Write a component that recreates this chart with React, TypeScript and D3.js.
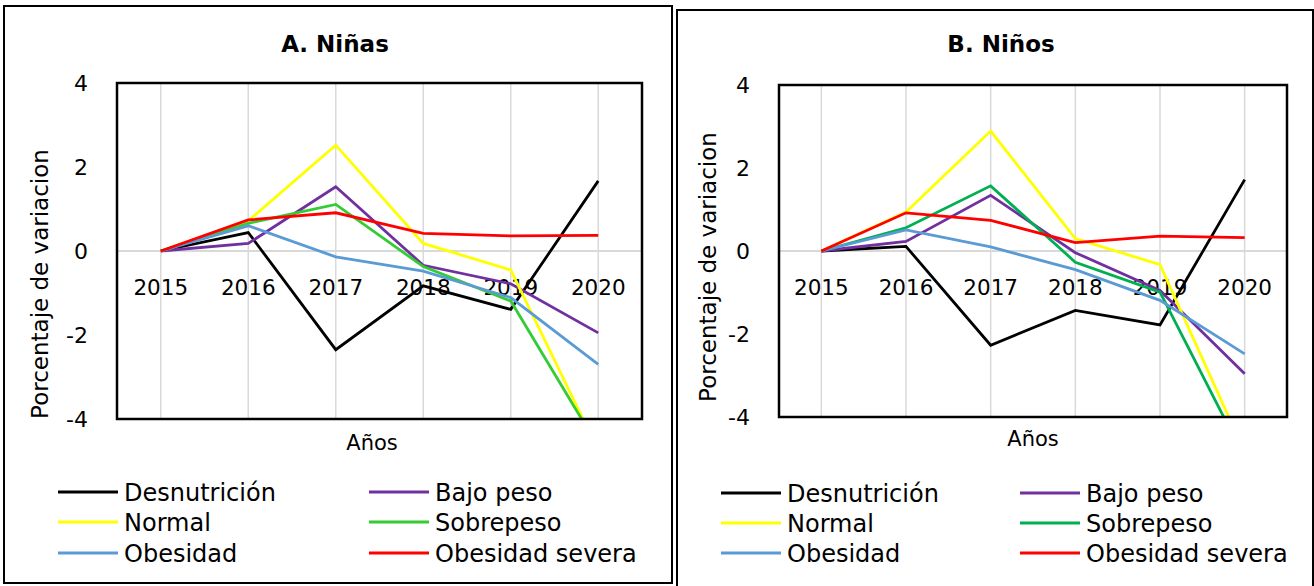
import React from 'react';
import * as d3 from 'd3';

const years = ['2015', '2016', '2017', '2018', '2019', '2020'];
const yTicks = [4, 2, 0, -2, -4];
const seriesNames = ['Desnutrición', 'Bajo peso', 'Normal', 'Sobrepeso', 'Obesidad', 'Obesidad severa'];

const ninasDesnutricion = [0, 0.44, -2.35, -0.83, -1.39, 1.67];
const ninasBajoPeso = [0, 0.18, 1.53, -0.34, -0.78, -1.95];
const ninasNormal = [0, 0.72, 2.52, 0.18, -0.45, -4.75];
const ninasSobrepeso = [0, 0.66, 1.11, -0.37, -1.19, -4.66];
const ninasObesidad = [0, 0.6, -0.14, -0.48, -1.11, -2.7];
const ninasObesidadSevera = [0, 0.74, 0.91, 0.42, 0.36, 0.37];

const ninosDesnutricion = [0, 0.11, -2.27, -1.43, -1.78, 1.72];
const ninosBajoPeso = [0, 0.23, 1.34, -0.04, -0.95, -2.96];
const ninosNormal = [0, 0.94, 2.89, 0.3, -0.33, -4.85];
const ninosSobrepeso = [0, 0.56, 1.57, -0.27, -0.99, -4.99];
const ninosObesidad = [0, 0.51, 0.1, -0.45, -1.19, -2.48];
const ninosObesidadSevera = [0, 0.92, 0.74, 0.2, 0.36, 0.32];

const colorsA = ['#000000', '#7030A0', '#FFFF00', '#33CC33', '#5B9BD5', '#FF0000'];
const colorsB = ['#000000', '#7030A0', '#FFFF00', '#00B050', '#5B9BD5', '#FF0000'];

const FONT = "'DejaVu Sans', sans-serif";

type PanelProps = {
  id: string;
  frame: [number, number, number, number];
  plot: [number, number, number, number];
  title: string;
  titleX: number;
  yTitle: [number, number];
  xTitle: [number, number];
  series: number[][];
  colors: string[];
  legend: { col1Line: number; col2Line: number; rows: number[] };
};

function Panel(p: PanelProps) {
  const [pl, pt, pr, pb] = p.plot;
  const x = d3.scalePoint<string>().domain(years).range([pl, pr]).padding(0.5);
  const y = d3.scaleLinear().domain([-4, 4]).range([pb, pt]);
  const line = d3
    .line<number>()
    .x((_, i) => x(years[i]) as number)
    .y((d) => y(d));
  const [fx, fy, fw, fh] = p.frame;
  const lineLen = 60;
  return (
    <g>
      <defs>
        <clipPath id={p.id}>
          <rect x={pl} y={pt} width={pr - pl} height={pb - pt} />
        </clipPath>
      </defs>
      <rect x={fx} y={fy} width={fw} height={fh} fill="white" stroke="#000" strokeWidth={2} />
      <text x={p.titleX} y={44} dy="0.36em" textAnchor="middle" fontFamily={FONT} fontWeight="bold" fontSize={23}>
        {p.title}
      </text>
      {years.map((yr) => (
        <line key={yr} x1={x(yr)} x2={x(yr)} y1={pt} y2={pb} stroke="#d9d9d9" strokeWidth={1.5} />
      ))}
      <line x1={pl} x2={pr} y1={y(0)} y2={y(0)} stroke="#d9d9d9" strokeWidth={2} />
      {yTicks.map((t) => (
        <text key={t} x={pl - 29} y={y(t)} dy="0.36em" textAnchor="end" fontFamily={FONT} fontSize={22}>
          {t < 0 ? `-${Math.abs(t)}` : t}
        </text>
      ))}
      {years.map((yr) => (
        <text key={yr} x={x(yr)} y={y(0) + 36} dy="0.36em" textAnchor="middle" fontFamily={FONT} fontSize={21.5}>
          {yr}
        </text>
      ))}
      <g clipPath={`url(#${p.id})`}>
        {p.series.map((s, i) => (
          <path key={i} d={line(s) || ''} fill="none" stroke={p.colors[i]} strokeWidth={2.8} strokeLinejoin="miter" />
        ))}
      </g>
      <rect x={pl} y={pt} width={pr - pl} height={pb - pt} fill="none" stroke="#000" strokeWidth={2.5} />
      <text
        transform={`translate(${p.yTitle[0]},${p.yTitle[1]}) rotate(-90)`}
        textAnchor="middle"
        dy="0.36em"
        fontFamily={FONT}
        fontSize={23}
      >
        Porcentaje de variacion
      </text>
      <text x={p.xTitle[0]} y={p.xTitle[1]} dy="0.36em" textAnchor="middle" fontFamily={FONT} fontSize={21}>
        Años
      </text>
      {seriesNames.map((name, i) => {
        const col = i % 2;
        const row = Math.floor(i / 2);
        const lx = col === 0 ? p.legend.col1Line : p.legend.col2Line;
        const ly = p.legend.rows[row];
        return (
          <g key={name}>
            <line x1={lx} x2={lx + lineLen} y1={ly} y2={ly} stroke={p.colors[i]} strokeWidth={2.8} />
            <text x={lx + lineLen + 6} y={ly} dy="0.36em" fontFamily={FONT} fontSize={24}>
              {name}
            </text>
          </g>
        );
      })}
    </g>
  );
}

export default function App() {
  return (
    <svg width={1314} height={586} style={{ position: 'absolute', left: 0, top: 0 }}>
      <rect x={0} y={0} width={1314} height={586} fill="white" />
      <Panel
        id="clipA"
        frame={[4, 6, 668, 577]}
        plot={[117, 83, 642, 419]}
        title="A. Niñas"
        titleX={335}
        yTitle={[40, 284]}
        xTitle={[372, 442]}
        series={[ninasDesnutricion, ninasBajoPeso, ninasNormal, ninasSobrepeso, ninasObesidad, ninasObesidadSevera]}
        colors={colorsA}
        legend={{ col1Line: 58, col2Line: 369, rows: [492, 522, 553] }}
      />
      <Panel
        id="clipB"
        frame={[677, 10, 636, 580]}
        plot={[779, 85, 1287, 417]}
        title="B. Niños"
        titleX={1001}
        yTitle={[708, 267]}
        xTitle={[1033, 438]}
        series={[ninosDesnutricion, ninosBajoPeso, ninosNormal, ninosSobrepeso, ninosObesidad, ninosObesidadSevera]}
        colors={colorsB}
        legend={{ col1Line: 721, col2Line: 1020, rows: [493, 523, 553] }}
      />
    </svg>
  );
}
